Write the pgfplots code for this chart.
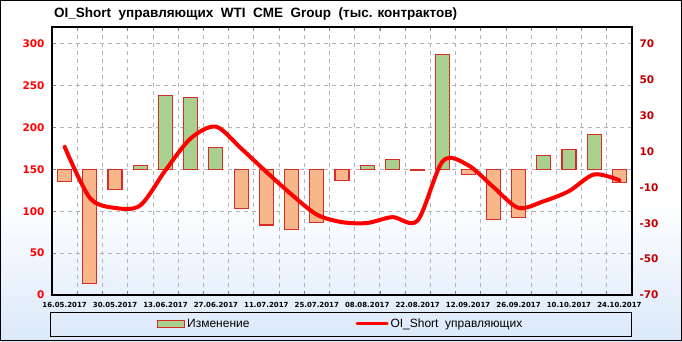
\documentclass[border=0pt]{standalone}
\usepackage{fontspec}
\setmainfont{DejaVu Sans}
\newfontfamily\lib{Liberation Sans}
\usepackage{pgfplots}
\usepackage{pgfplotstable}
\pgfplotsset{compat=1.18}
\definecolor{bgblue}{RGB}{219,233,250}
\definecolor{lblred}{RGB}{255,0,0}
\definecolor{rlblred}{RGB}{192,0,0}
\definecolor{barred}{RGB}{215,45,38}
\definecolor{grnfill}{RGB}{169,208,142}
\definecolor{orgfill}{RGB}{248,183,139}
\definecolor{gridgray}{RGB}{180,180,180}

\pgfplotstableread{
x ch
3 2
4 41
5 40
6 12
12 2
13 5.5
15 64
19 7.5
20 11
21 19.5
}\posdata
\pgfplotstableread{
x ch
0 -7
1 -63.5
2 -11
7 -22
8 -31
9 -33.5
10 -29.5
11 -6
14 -0.5
16 -3
17 -28
18 -27
22 -7.5
}\negdata
\pgfplotstableread{
x oi
0 177
1 116
2 104
3 107
4 149
5 187
6 201
7 175
8 147
9 120
10 96
11 87
12 86
13 93
14 89
15 160
16 155
17 129
18 104
19 112
20 124
21 144
22 137
}\linedata

\pgfplotsset{base/.style={scale only axis, width=580pt, height=268pt,
  at={(52pt,46pt)}, anchor=south west, xmin=-0.5, xmax=22.5}}

\begin{document}
\begin{tikzpicture}
\useasboundingbox (0,0) rectangle (682pt,341pt);
\fill[white] (0,0) rectangle (682pt,341pt);
\shade[bottom color=bgblue, top color=white] (0,0) rectangle (682pt,141pt);
\draw[black, line width=1pt] (0.5pt,0.5pt) rectangle (681.5pt,340.5pt);
\draw[black, line width=1pt] (50pt,5pt) rectangle (631pt,29pt);
\node[anchor=west, inner sep=0pt, font=\lib\bfseries\fontsize{13.5}{15}\selectfont]
  at (54pt,327pt) {OI\_Short\ \ управляющих\ \ WTI\ \ CME\ \ Group\ \ (тыс. контрактов)};

% left axis with grid
\begin{axis}[base, ymin=0, ymax=320,
  axis line style={black, line width=1.1pt},
  xtick={0.5,1.5,...,21.5}, xticklabels={},
  xmajorgrids, ymajorgrids,
  major grid style={gridgray, dash pattern=on 4pt off 4pt, line width=0.7pt},
  tick align=inside, major tick length=4pt,
  tick style={gray, line width=0.6pt},
  ytick pos=left,
  extra x ticks={0,2,...,22},
  extra x tick labels={16.05.2017,30.05.2017,13.06.2017,27.06.2017,11.07.2017,25.07.2017,08.08.2017,22.08.2017,12.09.2017,26.09.2017,10.10.2017,24.10.2017},
  extra x tick style={grid=none, tick style={draw=none}},
  xticklabel style={font=\bfseries\fontsize{7}{8}\selectfont, text=black, yshift=-3.5pt},
  ytick={0,50,...,300}, yticklabels={0,50,100,150,200,250,300},
  yticklabel style={font=\bfseries\fontsize{10.5}{12}\selectfont, text=lblred, xshift=-4pt},
]
\addplot[draw=none] coordinates {(0,0)};
\end{axis}

% right axis with bars
\begin{axis}[base, ymin=-70, ymax=79.333,
  hide x axis, axis y line*=right, y axis line style={draw=none},
  ytick={-70,-50,...,70}, yticklabels={-70,-50,-30,-10,10,30,50,70},
  ytick style={draw=none},
  yticklabel style={font=\bfseries\fontsize{10.5}{12}\selectfont, text=rlblred, xshift=4pt},
]
\addplot[ybar, bar width=14pt, bar shift=0pt, draw=barred, line width=1.1pt,
  fill=grnfill] table[x=x, y=ch] {\posdata};
\addplot[ybar, bar width=14pt, bar shift=0pt, draw=barred, line width=1.1pt,
  fill=orgfill] table[x=x, y=ch] {\negdata};
\end{axis}

% line axis with legend
\begin{axis}[base, ymin=0, ymax=320, hide axis,
  legend style={at={(axis description cs:0.181,-0.108)}, anchor=west,
    draw=none, fill=none, inner sep=0pt, legend columns=2,
    font=\lib\fontsize{12}{14}\selectfont,
    /tikz/every even column/.append style={column sep=104pt}},
  legend cell align=left,
]
\addlegendimage{legend image code/.code={\draw[barred, line width=1pt, fill=grnfill] (0pt,-3.5pt) rectangle (27pt,3.5pt);}}
\addlegendentry{Изменение}
\addplot[red, line width=4pt, smooth, line cap=round,
  legend image code/.code={\draw[red, line width=3pt, line cap=round] (0pt,0pt) -- (30pt,0pt);}]
  table[x=x, y=oi] {\linedata};
\addlegendentry{OI\_Short\ \ управляющих}
\end{axis}
\end{tikzpicture}
\end{document}
